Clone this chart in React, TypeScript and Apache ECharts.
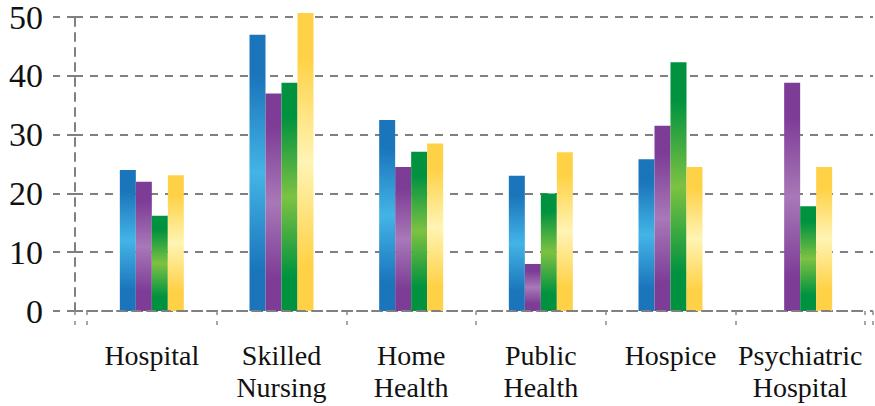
import React, { useEffect, useRef } from "react";
import * as echarts from "echarts";

const categories = ["Hospital", "Skilled\nNursing", "Home\nHealth", "Public\nHealth", "Hospice", "Psychiatric\nHospital"];
const seriesBlue = [24, 47, 32.5, 23, 25.8, null];
const seriesPurple = [22, 37, 24.5, 8, 31.5, 38.8];
const seriesGreen = [16.2, 38.8, 27.1, 20, 42.3, 17.8];
const seriesYellow = [23.1, 50.7, 28.5, 27, 24.5, 24.5];
const yTicks = { min: 0, max: 50, interval: 10 };

const palette = [
  { dark: "#1b75bb", light: "#43b4e6" },
  { dark: "#7d3c96", light: "#a878b8" },
  { dark: "#00923f", light: "#7cc242" },
  { dark: "#ffd146", light: "#fff4b4" },
];

const grad = (p: { dark: string; light: string }) =>
  new echarts.graphic.LinearGradient(0, 0, 0, 1, [
    { offset: 0, color: p.dark },
    { offset: 0.15, color: p.dark },
    { offset: 0.5, color: p.light },
    { offset: 0.85, color: p.dark },
    { offset: 1, color: p.dark },
  ]);

export default function App() {
  const ref = useRef<HTMLDivElement>(null);
  useEffect(() => {
    document.body.style.margin = "0";
    if (!ref.current) return;
    const chart = echarts.init(ref.current, null, { renderer: "svg" });
    const dashed = { color: "#808080", width: 2, type: [8, 7] as any };
    const tickStyle = { color: "#8a8a8a", width: 1.5, type: [4, 6] as any };
    const all = [seriesBlue, seriesPurple, seriesGreen, seriesYellow];
    chart.setOption({
      animation: false,
      grid: [
        { left: 75, right: 2, top: 17, bottom: 95 },
        { left: 87, right: 10, top: 17, bottom: 95 },
      ],
      xAxis: [
        {
          gridIndex: 0,
          type: "value",
          min: 0,
          max: 1,
          interval: 1,
          axisLine: { show: false },
          axisTick: { show: true, length: 20, lineStyle: tickStyle },
          axisLabel: { show: false },
          splitLine: { show: false },
        },
        {
          gridIndex: 1,
          type: "category",
          data: categories,
          z: 5,
          axisLine: { show: true, lineStyle: dashed },
          axisTick: { show: true, length: 20, lineStyle: tickStyle },
          axisLabel: {
            fontFamily: "Liberation Serif",
            fontSize: 28,
            lineHeight: 32,
            color: "#111",
            margin: 28,
            interval: 0,
          },
        },
      ],
      yAxis: [
        {
          gridIndex: 0,
          type: "value",
          min: yTicks.min,
          max: yTicks.max,
          interval: yTicks.interval,
          axisLine: { show: true, lineStyle: dashed },
          axisTick: { show: true, length: 22, lineStyle: dashed },
          splitLine: { show: true, lineStyle: dashed },
          axisLabel: {
            fontFamily: "Liberation Serif",
            fontSize: 34,
            lineHeight: 30,
            padding: [2, 0, 0, 0],
            color: "#111",
            margin: 32,
          },
        },
        {
          gridIndex: 1,
          type: "value",
          min: yTicks.min,
          max: yTicks.max,
          interval: yTicks.interval,
          show: false,
        },
      ],
      series: all.map((d, i) => ({
        type: "bar",
        xAxisIndex: 1,
        yAxisIndex: 1,
        data: d,
        barWidth: 16,
        barGap: "0%",
        clip: false,
        itemStyle: { color: grad(palette[i]) },
      })),
    });
    return () => chart.dispose();
  }, []);
  return <div ref={ref} style={{ width: 875, height: 406 }} />;
}
